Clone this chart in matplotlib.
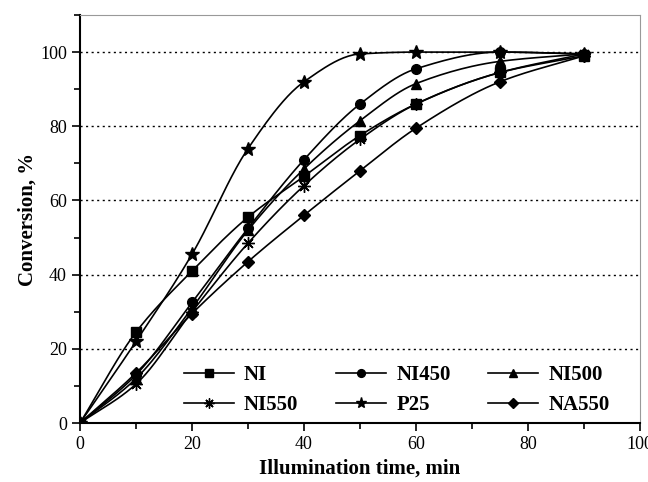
import numpy as np
import matplotlib
matplotlib.use('Agg')
import matplotlib.pyplot as plt
from matplotlib.ticker import MultipleLocator

plt.rcParams['font.family'] = ['Liberation Serif', 'DejaVu Serif']

time_min = [0, 10, 20, 30, 40, 50, 60, 75, 90]
ni = [0, 24.5, 41, 55.5, 66.5, 77.5, 86, 94.5, 99]
ni450 = [0, 13, 32.5, 52.5, 71, 86, 95.5, 100, 99.5]
ni500 = [0, 12, 31, 52, 68.5, 81.5, 91.5, 97.5, 99.5]
ni550 = [0, 10.5, 30, 48.5, 64, 76.5, 86, 94.5, 99.5]
p25 = [0, 22, 45.5, 74, 92, 99.5, 100, 100, 99.5]
na550 = [0, 13.5, 29.5, 43.5, 56, 68, 79.5, 92, 99]

series = [
    ("NI", ni, 's', 7),
    ("NI450", ni450, 'o', 7),
    ("NI500", ni500, '^', 7.5),
    ("NI550", ni550, (8, 2, 0), 9),
    ("P25", p25, '*', 10),
    ("NA550", na550, 'D', 6),
]


def smooth(x, y, n=25):
    # monotone cubic (Fritsch-Carlson) curve through the points, for drawing only
    x = np.asarray(x, float)
    y = np.asarray(y, float)
    h = np.diff(x)
    d = np.diff(y) / h
    m = np.zeros_like(y)
    m[0], m[-1] = d[0], d[-1]
    for i in range(1, len(y) - 1):
        if d[i - 1] * d[i] <= 0:
            m[i] = 0
        else:
            w1 = 2 * h[i] + h[i - 1]
            w2 = h[i] + 2 * h[i - 1]
            m[i] = (w1 + w2) / (w1 / d[i - 1] + w2 / d[i])
    xs, ys = [], []
    t = np.linspace(0, 1, n)
    for i in range(len(x) - 1):
        h00 = 2 * t**3 - 3 * t**2 + 1
        h10 = t**3 - 2 * t**2 + t
        h01 = -2 * t**3 + 3 * t**2
        h11 = t**3 - t**2
        xs.extend(x[i] + t * h[i])
        ys.extend(h00 * y[i] + h10 * h[i] * m[i] + h01 * y[i + 1] + h11 * h[i] * m[i + 1])
    return np.array(xs), np.array(ys)


fig = plt.figure(figsize=(6.48, 4.82), dpi=100)
ax = fig.add_axes([0.1235, 0.1224, 0.8642, 0.8465])

handles = {}
for name, vals, mk, ms in series:
    sx, sy = smooth(time_min, vals)
    ax.plot(sx, sy, color='black', lw=1.2, zorder=3)
    ax.plot(time_min, vals, linestyle='none', marker=mk, ms=ms, color='black',
            mec='black', mew=1.0, zorder=4)
    h, = ax.plot([], [], color='black', lw=1.2, marker=mk, ms=ms * 0.8, label=name)
    handles[name] = h

ax.set_xlim(0, 100)
ax.set_ylim(0, 110)
ax.xaxis.set_major_locator(MultipleLocator(20))
ax.xaxis.set_minor_locator(MultipleLocator(10))
ax.yaxis.set_minor_locator(MultipleLocator(10))
ax.set_yticks([0, 20, 40, 60, 80, 100])

for y in [20, 40, 60, 80, 100]:
    ax.axhline(y, color='black', lw=1.0, linestyle=(0, (1.5, 2.5)), zorder=1)

ax.tick_params(which='both', direction='out', labelsize=13, width=1.2)
ax.tick_params(which='major', length=6)
ax.tick_params(which='minor', length=4)
ax.spines['left'].set_linewidth(1.5)
ax.spines['bottom'].set_linewidth(1.5)
ax.spines['top'].set_color('#999999')
ax.spines['right'].set_color('#999999')

ax.set_xlabel('Illumination time, min', fontsize=15, fontweight='bold', labelpad=4)
ax.set_ylabel('Conversion, %', fontsize=15, fontweight='bold', labelpad=2)

# legend fills column by column: order so rows read NI, NI450, NI500 / NI550, P25, NA550
order = ["NI", "NI550", "NI450", "P25", "NI500", "NA550"]
ax.legend(handles=[handles[k] for k in order], ncol=3, loc='lower left',
          bbox_to_anchor=(0.185, 0.02), borderaxespad=0, borderpad=0,
          frameon=False, prop={'size': 15, 'weight': 'bold'},
          handlelength=2.4, columnspacing=1.8, labelspacing=0.45, handletextpad=0.5)

plt.savefig('out.png', dpi=100)
